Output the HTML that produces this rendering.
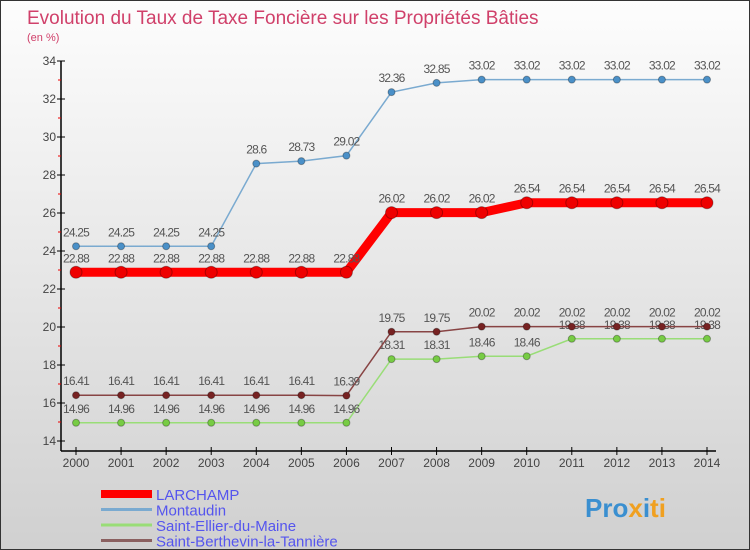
<!DOCTYPE html>
<html><head><meta charset="utf-8"><style>
body{margin:0;}
#c{width:750px;height:550px;position:relative;background:linear-gradient(#fdfdfd,#d0d0d0);border:1px solid #333;box-sizing:border-box;overflow:hidden;font-family:"Liberation Sans",sans-serif;}
</style></head><body>
<div id="c">
<svg id="s" width="750" height="550" style="position:absolute;left:0;top:0"></svg>
</div>
<script>
const years=[2000,2001,2002,2003,2004,2005,2006,2007,2008,2009,2010,2011,2012,2013,2014];
const larchamp=[22.88,22.88,22.88,22.88,22.88,22.88,22.88,26.02,26.02,26.02,26.54,26.54,26.54,26.54,26.54];
const montaudin=[24.25,24.25,24.25,24.25,28.6,28.73,29.02,32.36,32.85,33.02,33.02,33.02,33.02,33.02,33.02];
const ellier=[14.96,14.96,14.96,14.96,14.96,14.96,14.96,18.31,18.31,18.46,18.46,19.38,19.38,19.38,19.38];
const berthevin=[16.41,16.41,16.41,16.41,16.41,16.41,16.39,19.75,19.75,20.02,20.02,20.02,20.02,20.02,20.02];
const yTicks=[14,16,18,20,22,24,26,28,30,32,34];
const names=["LARCHAMP","Montaudin","Saint-Ellier-du-Maine","Saint-Berthevin-la-Tannière"];
const S=document.getElementById('s');const NS="http://www.w3.org/2000/svg";
function X(i){return 75+i*(706-75)/(years.length-1);}
function Y(v){return 440-(v-14)*19;}
function el(t,a,txt,p){const e=document.createElementNS(NS,t);for(const k in a)e.setAttribute(k,a[k]);if(txt!==undefined)e.textContent=txt;(p||S).appendChild(e);return e;}
let e;
e=el('text',{x:26,y:23,'font-size':19,fill:'#d0406a'},'Evolution du Taux de Taxe Foncière sur les Propriétés Bâties');

e=el('text',{x:26,y:40,'font-size':11,fill:'#d0406a'},'(en %)');

e=el('line',{x1:60,y1:60,x2:60,y2:450,stroke:'#000','stroke-width':1.5});

e=el('line',{x1:60,y1:450,x2:715,y2:450,stroke:'#000','stroke-width':1.5});

yTicks.forEach(v=>{
 e=el('line',{x1:56,y1:Y(v),x2:64,y2:Y(v),stroke:'#000'});
 if(v<34){e=el('line',{x1:57,y1:Y(v+1),x2:60,y2:Y(v+1),stroke:'#e00'});}
 e=el('text',{x:55,y:Y(v)+4,'font-size':12,fill:'#444','text-anchor':'end'},v);
});
years.forEach((y,i)=>{
 e=el('line',{x1:X(i),y1:446,x2:X(i),y2:454,stroke:'#000'});
 e=el('text',{x:X(i),y:466,'font-size':12,fill:'#444','text-anchor':'middle'},y);
});
function series(data,color,w,r,dot,name){
 e=el('polyline',{points:data.map((v,i)=>X(i)+','+Y(v)).join(' '),fill:'none',stroke:color,'stroke-width':w});
 
 data.forEach((v,i)=>{
  e=el('circle',{cx:X(i),cy:Y(v),r:r,fill:dot,stroke:'rgba(0,0,0,0.3)'});
  e=el('text',{x:X(i),y:Y(v)-10,'font-size':12,fill:'#555','text-anchor':'middle','letter-spacing':'-0.8'},String(v));
 });
}
series(montaudin,'#7aaad0',1.5,3.5,'#4a90c8','montaudin');
series(ellier,'#99dd77',1.5,3.5,'#77cc44','ellier');
series(berthevin,'#884444',1.5,3.5,'#772222','berthevin');
series(larchamp,'#ff0000',9,6,'#ee0000','larchamp');
const lc=['#ff0000','#7aaad0','#99dd77','#8a6060'],lw=[8,3,3,3];
names.forEach((n,i)=>{
 const y=493+i*15.5;
 e=el('line',{x1:100,y1:y,x2:151,y2:y,stroke:lc[i],'stroke-width':lw[i]});
 e=el('text',{x:155,y:y+6,'font-size':15,fill:'#5555ee'},n);
});
e=el('text',{x:584,y:516,'font-size':26,'font-weight':'bold',fill:'#3a8fd0'});

el('tspan',{},'Pro',e);el('tspan',{fill:'#f0a020'},'x',e);el('tspan',{fill:'#3a8fd0'},'i',e);el('tspan',{fill:'#f0a020'},'ti',e);
</script>
</body></html>
